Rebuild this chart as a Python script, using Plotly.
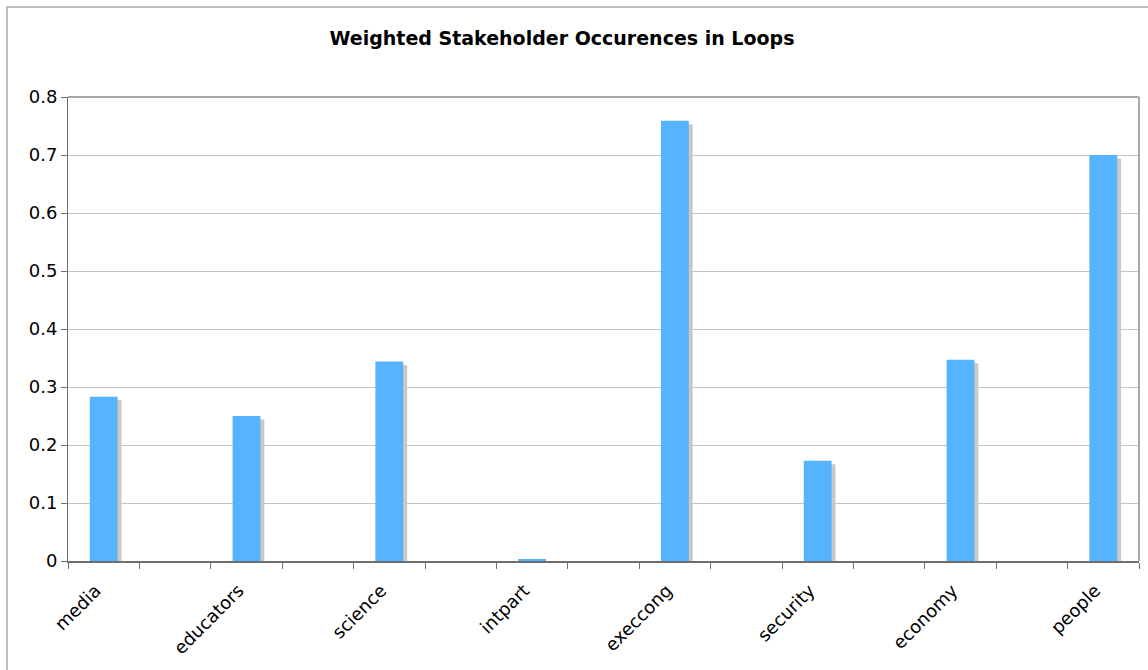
import plotly.graph_objects as go

# Stakeholder groups and their weighted occurrence in loops
categories = ["media", "educators", "science", "intpart",
              "execcong", "security", "economy", "people"]
values = [0.283, 0.250, 0.344, 0.002, 0.759, 0.173, 0.347, 0.700]

# Each group sits in every other slot of a 15-slot category axis
slot_count = 15
positions = [2 * i for i in range(len(categories))]
boundaries = [k - 0.5 for k in range(slot_count + 1)]

BAR_COLOR = "#56B4FE"
SHADOW_COLOR = "#C9C9C9"
bar_width = 0.39
shadow_dx = 0.055
shadow_dy = 0.006

FONT = "DejaVu Sans, Verdana, sans-serif"

fig = go.Figure()

# drop shadow, slightly right of and below each bar
fig.add_trace(go.Bar(
    x=[p + shadow_dx for p in positions],
    y=[max(v - shadow_dy, 0) for v in values],
    width=bar_width,
    marker=dict(color=SHADOW_COLOR, line=dict(width=0)),
    hoverinfo="skip",
    showlegend=False,
))
fig.add_trace(go.Bar(
    x=positions,
    y=values,
    width=bar_width,
    marker=dict(color=BAR_COLOR, line=dict(width=0)),
    showlegend=False,
    hovertext=categories,
))

fig.update_layout(
    width=1148, height=670,
    margin=dict(l=68, r=9, t=97, b=109),
    paper_bgcolor="white",
    plot_bgcolor="white",
    barmode="overlay",
    font=dict(family=FONT, color="black", size=18),
    title=dict(
        text="<b>Weighted Stakeholder Occurences in Loops</b>",
        x=562 / 1148, xanchor="center", xref="container",
        y=1 - 38 / 670, yanchor="middle",
        font=dict(size=19, family=FONT),
    ),
    xaxis=dict(
        range=[-0.5, slot_count - 0.5],
        tickmode="array",
        tickvals=positions,
        ticktext=categories,
        tickangle=-45,
        ticks="",
        ticklabelstandoff=10,
        ticklabelshift=-8,
        showgrid=False,
        zeroline=False,
        showline=True,
        linecolor="#6e6e6e",
        linewidth=2,
        tickfont=dict(size=18),
        minor=dict(
            tickmode="array",
            tickvals=boundaries,
            ticks="outside",
            ticklen=6,
            tickcolor="#6e6e6e",
            tickwidth=1,
            showgrid=False,
        ),
    ),
    yaxis=dict(
        range=[0, 0.8],
        dtick=0.1,
        tick0=0,
        ticks="outside",
        ticklen=6,
        tickcolor="#6e6e6e",
        showgrid=True,
        gridcolor="#C4C4C4",
        gridwidth=1,
        zeroline=False,
        showline=True,
        linecolor="#6e6e6e",
        linewidth=1,
        tickfont=dict(size=18),
    ),
    shapes=[
        # right edge of the plotting area
        dict(type="line", xref="paper", yref="paper",
             x0=1, x1=1, y0=0, y1=1,
             line=dict(color="#A8A8A8", width=2)),
        # top edge of the plotting area
        dict(type="line", xref="paper", yref="paper",
             x0=0, x1=1, y0=1, y1=1,
             line=dict(color="#A8A8A8", width=2)),
        # outer frame of the chart
        dict(type="rect", xref="paper", yref="paper",
             x0=(7 - 68) / 1071, x1=(1160 - 68) / 1071,
             y0=(561 - 690) / 464, y1=(561 - 7) / 464,
             line=dict(color="#BDBDBD", width=2),
             fillcolor="rgba(0,0,0,0)", layer="below"),
    ],
)

fig.write_html("out.html")
